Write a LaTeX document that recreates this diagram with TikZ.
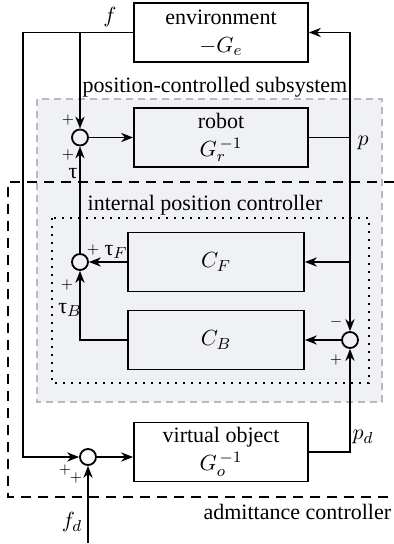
\documentclass[tikz,border=0pt]{standalone}
\usepackage{fontspec}
\setmainfont{Liberation Serif}
\usetikzlibrary{arrows.meta}
\definecolor{subsysfill}{RGB}{240,241,244}

\begin{document}
\begin{tikzpicture}[x=0.5pt,y=-0.5pt,line width=0.9pt,>={Stealth[length=6pt,width=4.6pt]},
sysblock/.style={draw,rectangle,align=center,minimum width=87pt,minimum height=29.5pt,inner sep=2pt,font=\fontsize{11}{14}\selectfont},
summer/.style={circle,draw,minimum size=8pt,inner sep=0pt},
sgn/.style={inner sep=0pt,font=\scriptsize},
lbl/.style={inner sep=0pt,font=\fontsize{11}{13}\selectfont}]

\useasboundingbox (0,0) rectangle (394,544);

% regions
\draw[gray!55,fill=subsysfill,dash pattern=on 3.5pt off 2.5pt] (37,99) rectangle (382,402);
\draw (215,87) node[lbl] (pcstitle) {position-controlled subsystem};
\draw[line width=1.1pt,dash pattern=on 1pt off 3pt] (52,218) rectangle (369,383);
\draw (205,205) node[lbl] (ipctitle) {internal position controller};
\draw[dash pattern=on 5pt off 3.5pt] (394,182) -- (8,182) -- (8,497) -- (394,497);
\draw (392,512) node[lbl,anchor=east] (actitle) {admittance controller};

% blocks
\draw (221,32.5) node[sysblock] (env) {environment\\$-G_e$};
\draw (221,137.5) node[sysblock] (robot) {robot\\$G_r^{\,-1}$};
\draw (216,262) node[sysblock,minimum width=88pt] (CF) {$C_F$};
\draw (216,340) node[sysblock,minimum width=88pt] (CB) {$C_B$};
\draw (221,452) node[sysblock] (VO) {virtual object\\$G_o^{\,-1}$};

% summing junctions
\draw (80,137.5) node[summer] (s1) {};
\draw (80,262) node[summer] (s2) {};
\draw (350,340) node[summer] (s3) {};
\draw (88,457) node[summer] (s4) {};

\coordinate (fleft) at (23,300);
\coordinate (fbr) at (80,32.5);
\coordinate (pbr) at (350,137.5);
\coordinate (fd) at (88,543);

% signals
\draw[->] (env.west) -| (fleft) |- (s4.west);
\draw[->] (fbr) -- (s1.north);
\draw[->] (s1.east) -- (robot.west);
\draw (robot.east) -- (pbr);
\draw[->] (pbr) |- (env.east);
\draw[->] (pbr) |- (CF.east);
\draw[->] (pbr) -- (s3.north);
\draw[->] (s3.west) -- (CB.east);
\draw[->] (CF.west) -- (s2.east);
\draw[->] (CB.west) -| (s2.south);
\draw[->] (s2.north) -- (s1.south);
\draw[->] (VO.east) -| (s3.south);
\draw[->] (s4.east) -- (s4.east -| VO.west);
\draw[->] (fd) -- (s4.south);

% labels
\draw (110,17) node[lbl] (lf) {$f$};
\draw (363,143) node[lbl] (lp) {$p$};
\draw (363,437) node[lbl] (lpd) {$p_d$};
\draw (72,522) node[lbl] (lfd) {$f_d$};
\draw (68,120) node[sgn] (s1a) {$+$};
\draw (68,155) node[sgn] (s1b) {$+$};
\draw (73,174) node[lbl] (ltau) {τ};
\draw (93,250) node[sgn] (s2a) {$+$};
\draw (116,252) node[lbl] (ltauF) {τ$_F$};
\draw (67,285) node[sgn] (s2b) {$+$};
\draw (70,310) node[lbl] (ltauB) {τ$_B$};
\draw (336,322) node[sgn] (s3a) {$-$};
\draw (336,360) node[sgn] (s3b) {$+$};
\draw (65,470) node[sgn] (s4a) {$+$};
\draw (76,478) node[sgn] (s4b) {$+$};
\end{tikzpicture}
\end{document}
